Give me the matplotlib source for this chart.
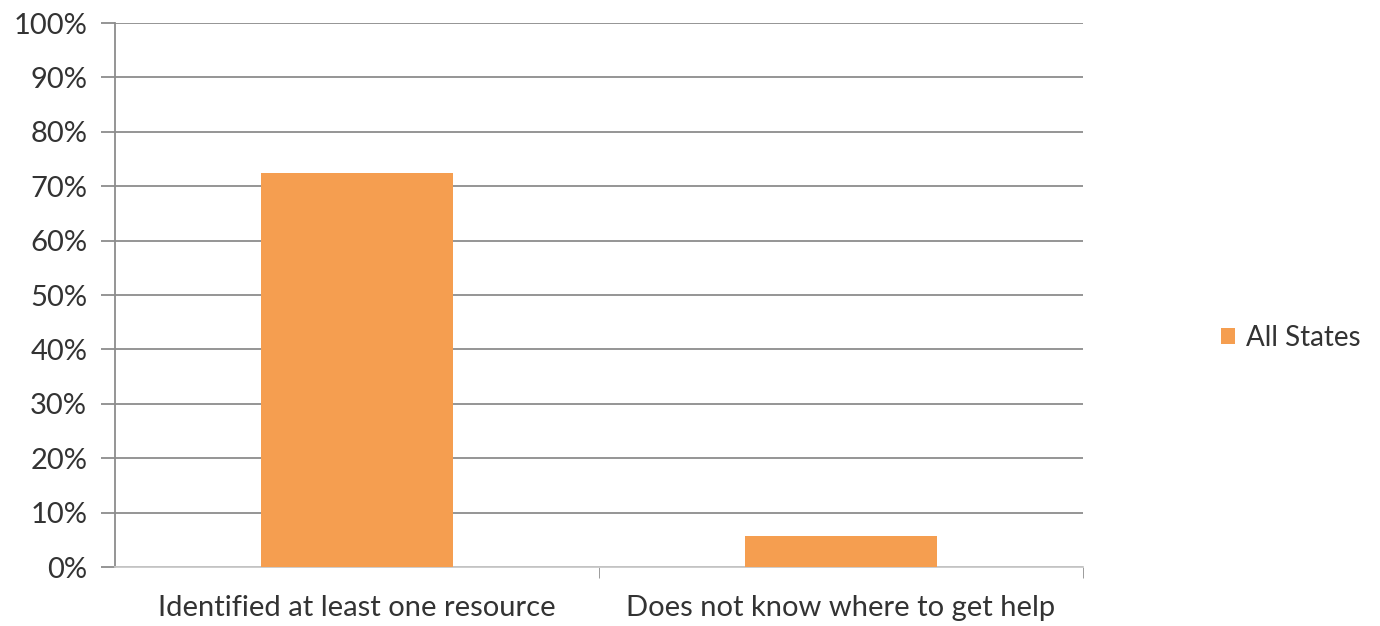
import matplotlib
matplotlib.use('Agg')
import matplotlib.pyplot as plt
from matplotlib.ticker import MultipleLocator, FuncFormatter

# chart data
categories = ['Identified at least one resource', 'Does not know where to get help']
all_states = [72.5, 5.7]
series_name = 'All States'

bar_color = '#F59E50'
grid_color = '#8c8c8c'
text_color = '#333333'

plt.rcParams['font.family'] = ['Lato', 'DejaVu Sans']

fig = plt.figure(figsize=(13.8, 6.26), dpi=100)
ax = fig.add_axes([115 / 1380, 1 - 567 / 626, (1083 - 115) / 1380, (567 - 23) / 626])

x = range(len(categories))
ax.bar(x, all_states, width=0.395, color=bar_color, label=series_name, zorder=3)

ax.set_xlim(-0.5, len(categories) - 0.5)
ax.set_ylim(0, 100)
ax.yaxis.set_major_locator(MultipleLocator(10))
ax.yaxis.set_major_formatter(FuncFormatter(lambda v, p: f'{v:.0f}%'))
ax.grid(axis='y', color=grid_color, linewidth=1.3, zorder=0)

# category labels centred, tick marks on the category boundaries
ax.set_xticks(list(x))
ax.set_xticklabels(categories)
ax.set_xticks([i + 0.5 for i in x], minor=True)
ax.tick_params(axis='x', which='major', length=0, pad=20, labelsize=21, labelcolor=text_color)
ax.tick_params(axis='x', which='minor', length=8, color=grid_color, direction='out')
ax.tick_params(axis='y', length=10, color=grid_color, width=1.3, labelsize=21,
               labelcolor=text_color, pad=10)

for side in ['top', 'right']:
    ax.spines[side].set_visible(False)
ax.spines['left'].set_color(grid_color)
ax.spines['left'].set_linewidth(1.3)
ax.spines['bottom'].set_color('#c8c8c8')
ax.spines['bottom'].set_linewidth(1.3)

leg = fig.legend(loc='center left', bbox_to_anchor=(1207 / 1380, 1 - 338 / 626),
                 frameon=False, fontsize=20, handlelength=0.5, handleheight=0.5,
                 handletextpad=0.4, borderpad=0)
for t in leg.get_texts():
    t.set_color(text_color)

plt.savefig('out.png', dpi=100, facecolor='white')
plt.close()
